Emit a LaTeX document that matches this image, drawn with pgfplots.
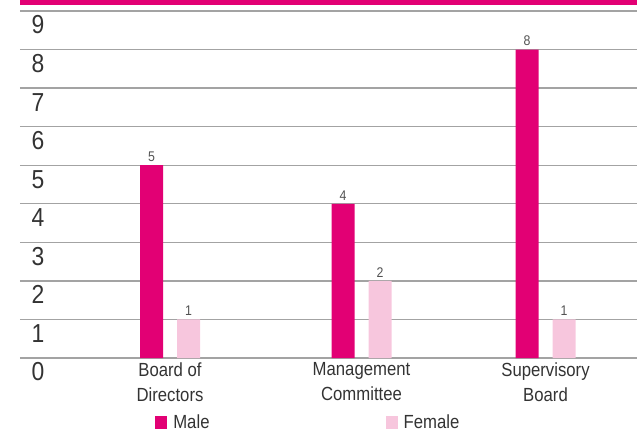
\documentclass[border=0pt]{standalone}
\usepackage{pgfplots}
\pgfplotsset{compat=1.18}
\usepackage{fontspec}
\setmainfont{Liberation Sans}[FakeStretch=0.88]
\definecolor{tmagenta}{HTML}{E20074}
\definecolor{tpink}{HTML}{F7C6DD}
\definecolor{gridgray}{HTML}{A3A3A3}
\definecolor{txt}{HTML}{333333}
\begin{document}
\begin{tikzpicture}
\begin{axis}[
  scale only axis, width=617pt, height=358pt,
  xmin=20, xmax=637, ymin=0, ymax=9.285,
  ybar, bar width=23pt,
  axis line style={draw=none},
  major tick length=0pt,
  ytick={0,...,9},
  ymajorgrids, grid style={gridgray, line width=1.3pt},
  xtick={170,361.5,545.5},
  xticklabels={{Board of\\Directors},{Management\\Committee},{Supervisory\\Board}},
  xticklabel style={align=center, font=\fontsize{19}{25}\selectfont, text=txt, yshift=-1pt},
  /pgf/number format/assume math mode=true,
  yticklabel style={anchor=center, xshift=18pt, yshift=-14pt, font=\fontsize{26}{26}\selectfont, text=txt},
  nodes near coords,
  nodes near coords style={font=\fontsize{14}{14}\selectfont, text=txt!85},
  legend columns=2,
  legend style={draw=none, fill=none, at={(0.219,-0.179)}, anchor=west, inner sep=0pt,
    font=\fontsize{19}{19}\selectfont, text=txt,
    /tikz/every odd column/.append style={column sep=4pt},
    /tikz/every even column/.append style={column sep=174pt}},
  legend image code/.code={\fill[#1,draw=none] (0pt,-6.5pt) rectangle (12pt,6.5pt);},
]
  % Male
  \addplot[fill=tmagenta, draw=none, bar shift=-18.5pt] coordinates {
    (170,5) (361.5,4) (545.5,8)
  };
  % Female
  \addplot[fill=tpink, draw=none, bar shift=18.5pt] coordinates {
    (170,1) (361.5,2) (545.5,1)
  };
  \legend{Male,Female}
  \fill[tmagenta] (axis cs:20,9.16) rectangle (axis cs:637,9.285);
\end{axis}
\pgfresetboundingbox
\path (current axis.south west) ++(-20pt,-88pt) rectangle (current axis.north east);
\end{tikzpicture}
\end{document}
